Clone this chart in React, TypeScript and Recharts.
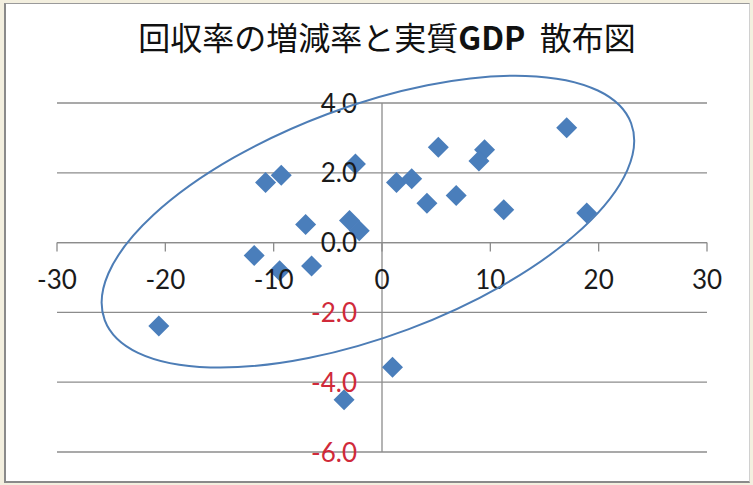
import React from "react";
import {
  CartesianGrid,
  ReferenceDot,
  ReferenceLine,
  Scatter,
  ScatterChart,
  XAxis,
  YAxis,
} from "recharts";

// 回収率の増減率 (x) vs 実質GDP (y)
const recoveryChange = [
  -20.6, -11.8, -9.45, -6.5, -7.05, -10.75, -9.3, -2.45, -3.0, -2.1, 1.34, 2.74,
  5.2, 4.15, 6.85, 9.47, 8.95, 11.24, 17.05, 18.9, 0.97, -3.5,
];
const realGdp = [
  -2.39, -0.37, -0.81, -0.67, 0.52, 1.72, 1.93, 2.25, 0.63, 0.34, 1.72, 1.83,
  2.73, 1.13, 1.35, 2.66, 2.34, 0.94, 3.29, 0.85, -3.57, -4.5,
];

const xTicks = [-30, -20, -10, 0, 10, 20, 30];
const yTicks = [-6, -4, -2, 0, 2, 4];

// hand-drawn ring around the main cluster
const ringCenter = { x: -1.3, y: 0.6 };

const points = recoveryChange.map((x, i) => ({ x, y: realGdp[i] }));

const BLUE = "#4a7ebb";
const GRID = "#8c8c8c";
const LABEL_FONT = "Lato, 'Open Sans', sans-serif";

const Diamond = (props: any) => {
  const { cx, cy } = props;
  const r = 10.5;
  return (
    <path
      d={`M${cx},${cy - r} L${cx + r},${cy} L${cx},${cy + r} L${cx - r},${cy} Z`}
      fill={BLUE}
    />
  );
};

const xTickShape = (v: number) => (props: any) => {
  const { cx, cy } = props;
  return (
    <g>
      <line x1={cx} y1={cy} x2={cx} y2={cy + 9} stroke={GRID} strokeWidth={1.3} />
      <text
        x={cx}
        y={cy + 46}
        textAnchor="middle"
        fontFamily={LABEL_FONT}
        fontSize={26}
        fill="#1a1a1a"
      >
        {v}
      </text>
    </g>
  );
};

const yTickShape = (v: number) => (props: any) => {
  const { cx, cy } = props;
  return (
    <text
      x={cx - 25}
      y={cy + 9.5}
      textAnchor="end"
      fontFamily={LABEL_FONT}
      fontSize={26}
      fill={v < 0 ? "#d02a3a" : "#1a1a1a"}
    >
      {v.toFixed(1)}
    </text>
  );
};

const Ring = (props: any) => {
  const { cx, cy } = props;
  return (
    <ellipse
      cx={cx}
      cy={cy}
      rx={281}
      ry={115}
      transform={`rotate(-20.5 ${cx} ${cy})`}
      fill="none"
      stroke="#4d7db6"
      strokeWidth={2}
    />
  );
};

export default function App() {
  return (
    <div
      style={{
        position: "absolute",
        left: 0,
        top: 0,
        width: 753,
        height: 485,
        background: "#f3efdf",
        overflow: "hidden",
      }}
    >
      <div
        style={{
          position: "absolute",
          left: 4,
          top: 3,
          width: 746,
          height: 480,
          background: "#ffffff",
          borderLeft: "2px solid #8a8a8a",
          borderTop: "1px solid #9a9a9a",
          borderBottom: "2px solid #8a8a8a",
          borderRight: "1px solid #d0d0d0",
          boxSizing: "border-box",
        }}
      />
      <div
        style={{
          position: "absolute",
          left: 0,
          top: 16,
          width: 774,
          textAlign: "center",
          fontFamily: "'Noto Sans CJK JP', sans-serif",
          fontSize: 32,
          lineHeight: "40px",
          color: "#111",
          whiteSpace: "pre",
        }}
      >
        回収率の増減率と実質<span style={{ fontWeight: 700 }}>GDP</span>  散布図
      </div>
      <div style={{ position: "absolute", left: 0, top: 0 }}>
        <ScatterChart
          width={753}
          height={485}
          margin={{ top: 103, right: 46, bottom: 33, left: 57 }}
        >
          <CartesianGrid vertical={false} stroke={GRID} strokeWidth={1.3} />
          <XAxis
            type="number"
            dataKey="x"
            domain={[-30, 30]}
            ticks={xTicks}
            hide
          />
          <YAxis
            type="number"
            dataKey="y"
            domain={[-6, 4]}
            ticks={yTicks}
            hide
          />
          <ReferenceLine x={0} stroke={GRID} strokeWidth={1.3} />
          <ReferenceLine y={0} stroke={GRID} strokeWidth={1.3} />
          <Scatter data={points} shape={Diamond} isAnimationActive={false} />
          {xTicks.map((v) => (
            <ReferenceDot
              key={`xt${v}`}
              x={v}
              y={0}
              ifOverflow="visible"
              shape={xTickShape(v)}
            />
          ))}
          {yTicks.map((v) => (
            <ReferenceDot
              key={`yt${v}`}
              x={0}
              y={v}
              ifOverflow="visible"
              shape={yTickShape(v)}
            />
          ))}
          <ReferenceDot
            x={ringCenter.x}
            y={ringCenter.y}
            ifOverflow="visible"
            shape={Ring}
          />
        </ScatterChart>
      </div>
    </div>
  );
}
